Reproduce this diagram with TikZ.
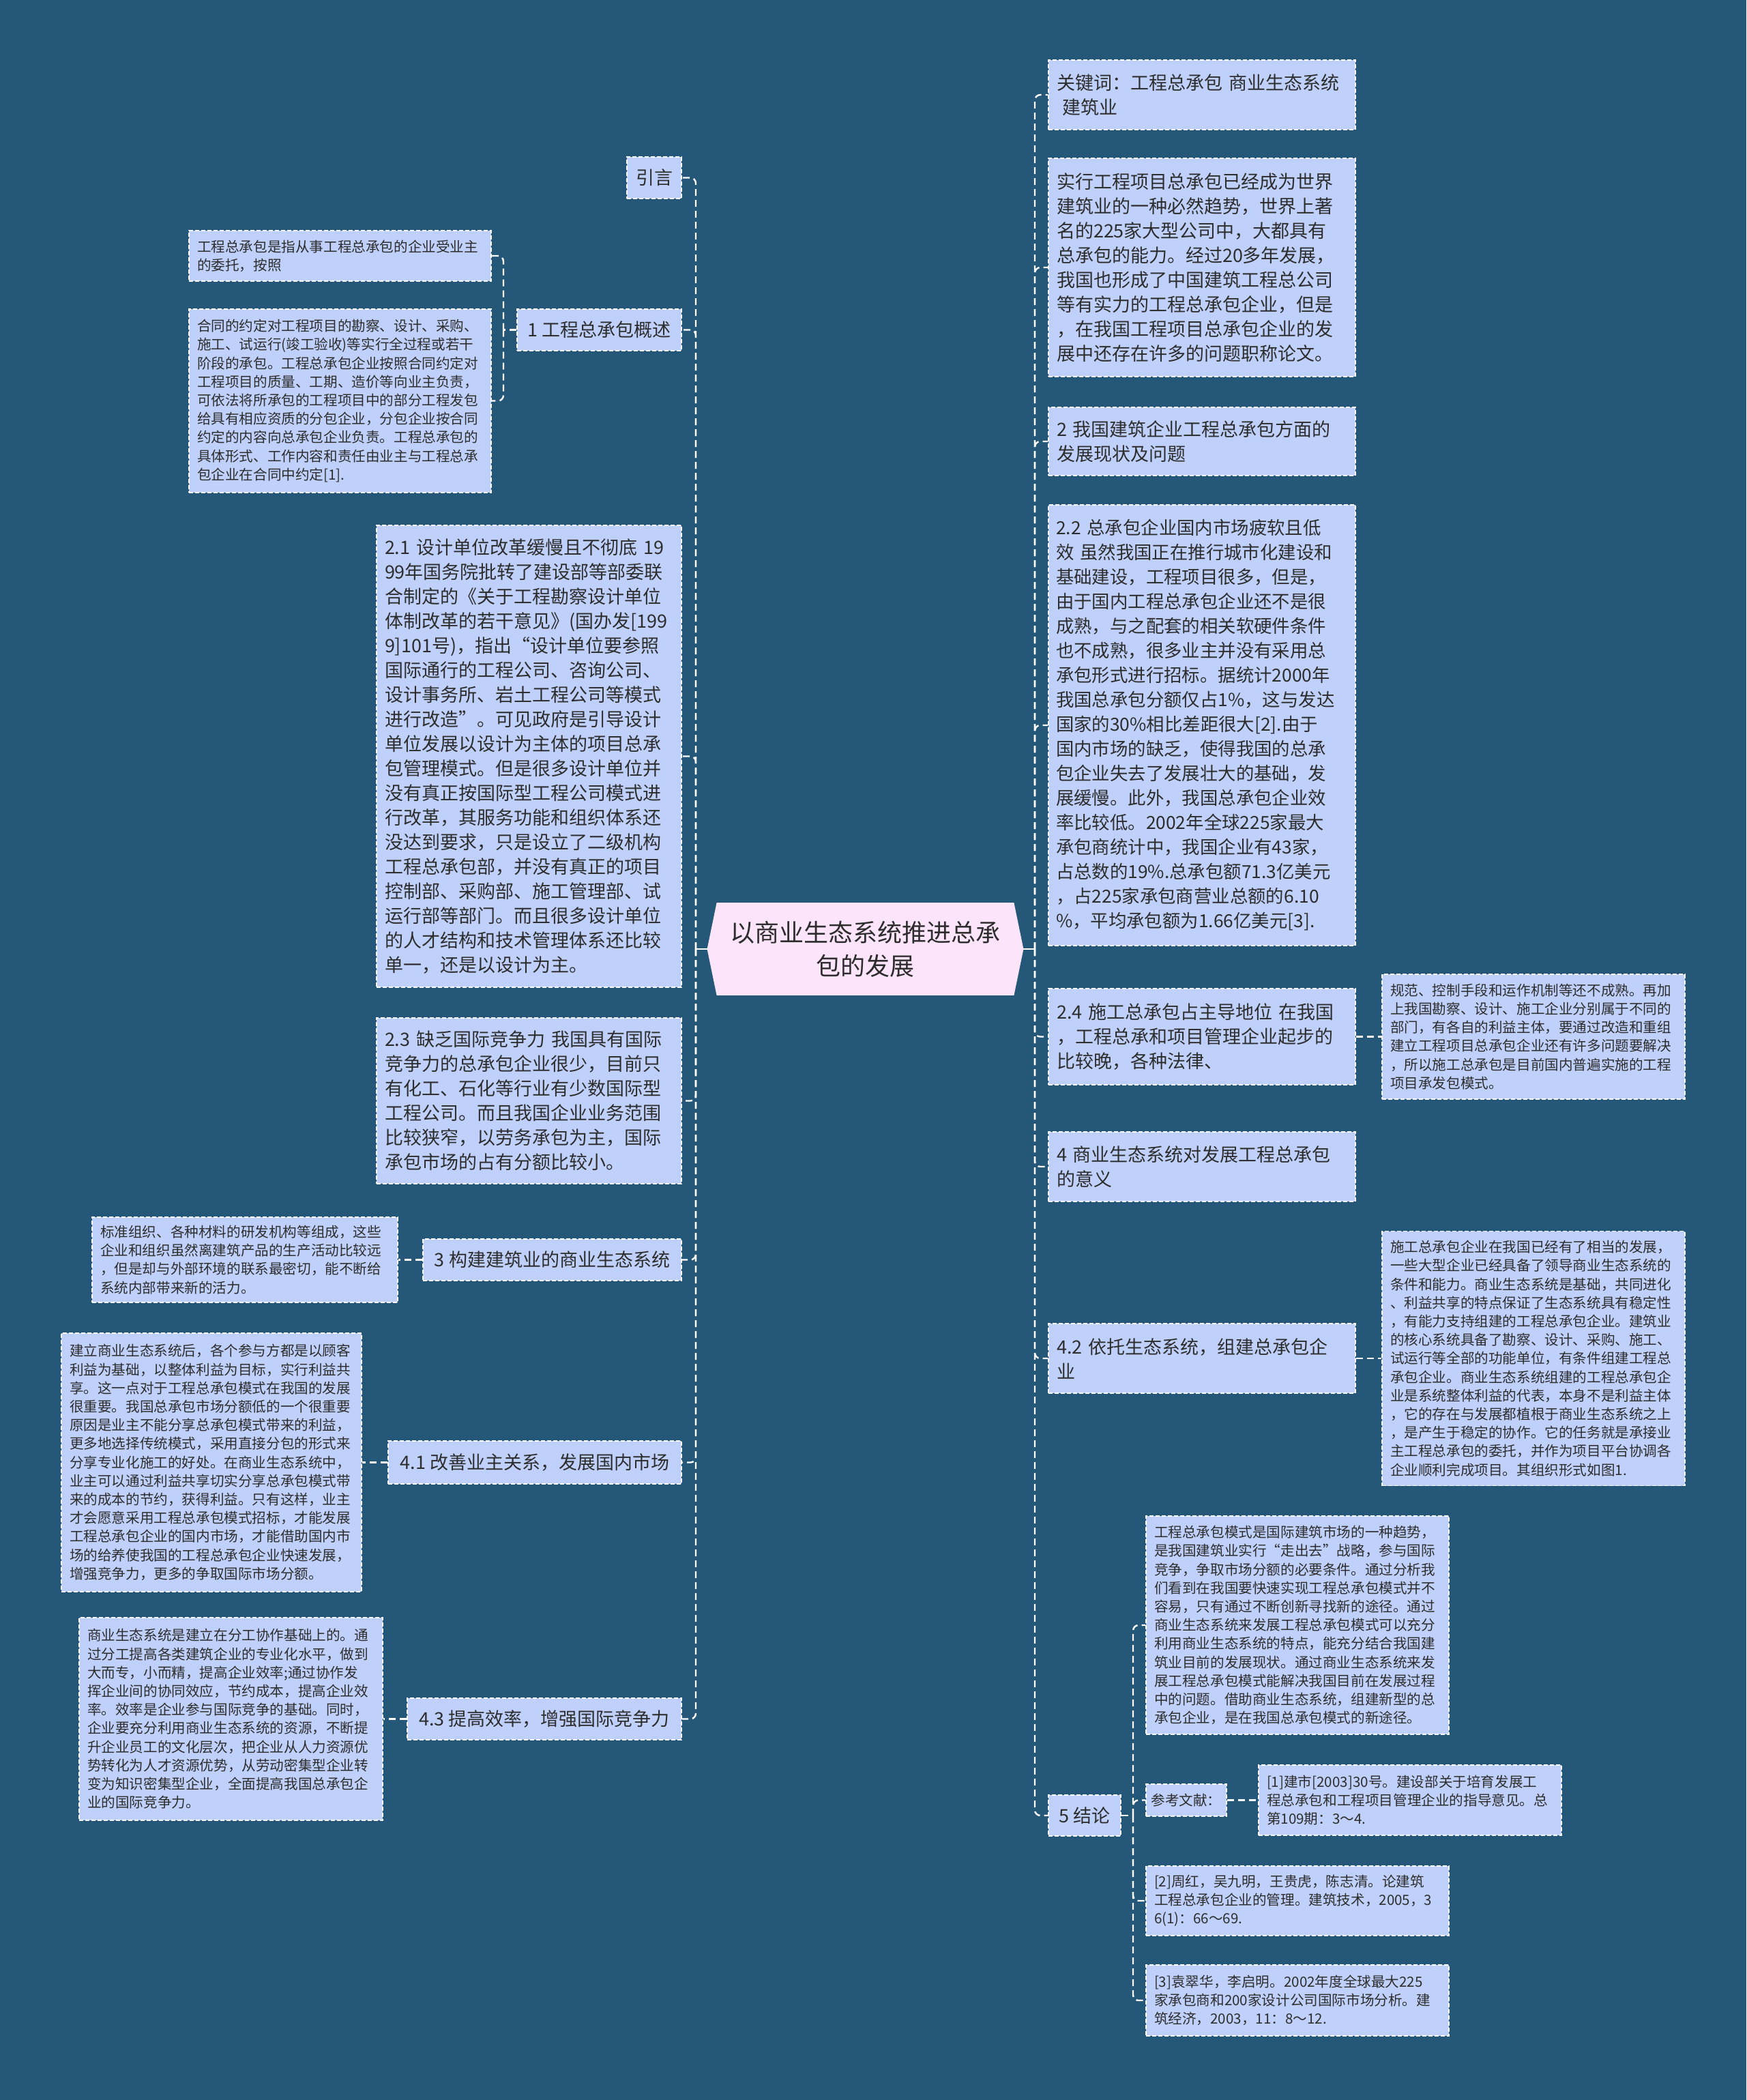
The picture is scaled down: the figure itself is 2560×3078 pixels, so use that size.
\documentclass[tikz,border=0pt]{standalone}
\usepackage{fontspec}
\setmainfont{Noto Sans CJK SC}
\usetikzlibrary{backgrounds}
\definecolor{bgc}{RGB}{36,87,120}
\definecolor{boxc}{RGB}{191,208,250}
\definecolor{cenc}{RGB}{252,229,250}
\definecolor{txt}{RGB}{45,45,45}
\tikzset{
 base/.style={draw=white, fill=boxc, line width=0.8pt, dash pattern=on 3pt off 1.5pt, text=txt, inner xsep=6pt, inner ysep=0pt, align=left, anchor=center},
 big/.style={base, font=\fontsize{13.5}{18}\selectfont},
 small/.style={base, font=\fontsize{10.3}{13.6}\selectfont},
 one/.style={align=center},
 conn/.style={draw=white, line width=1.2pt, dash pattern=on 5pt off 3pt, rounded corners=4pt},
 solidc/.style={draw=white, line width=1.2pt},
 ctext/.style={text=txt, align=center, font=\fontsize{18}{24.5}\selectfont, minimum width=231.5pt, minimum height=67.5pt, inner sep=0pt},
}
\begin{document}
\begin{tikzpicture}[x=0.5pt,y=-0.5pt]
\useasboundingbox (0,0) rectangle (2560,3078);
% center
\node[ctext] (c) at (1268.5,1391) {以商业生态系统推进总承\\包的发展};
\begin{scope}[on background layer]
\fill[bgc] (0,0) rectangle (2560,3078);
\fill[cenc] ([xshift=7pt]c.north west) -- ([xshift=-7pt]c.north east) -- (c.east) -- ([xshift=-7pt]c.south east) -- ([xshift=7pt]c.south west) -- (c.west) -- cycle;
\end{scope}

% left side
\node[big, one, minimum width=40pt, minimum height=30.5pt] (intro) at (959,260.5) {引言};
\node[small, text width=209.5pt, minimum height=37pt] (s1a) at (498.5,375) {工程总承包是指从事工程总承包的企业受业主\\的委托，按照};
\node[small, text width=209.5pt, minimum height=134.5pt] (s1b) at (498.5,587.5) {合同的约定对工程项目的勘察、设计、采购、\\
施工、试运行(竣工验收)等实行全过程或若干\\
阶段的承包。工程总承包企业按照合同约定对\\
工程项目的质量、工期、造价等向业主负责，\\
可依法将所承包的工程项目中的部分工程发包\\
给具有相应资质的分包企业，分包企业按合同\\
约定的内容向总承包企业负责。工程总承包的\\
具体形式、工作内容和责任由业主与工程总承\\
包企业在合同中约定[1].};
\node[big, one, minimum width=120.5pt, minimum height=30.5pt] (n1) at (878.5,483.5) {1~工程总承包概述};
\node[big, text width=211.5pt, minimum height=338.5pt] (n21) at (775.5,1108.5) {2.1~设计单位改革缓慢且不彻底~19\\
99年国务院批转了建设部等部委联\\
合制定的《关于工程勘察设计单位\\
体制改革的若干意见》(国办发[199\\
9]101号)，指出“设计单位要参照\\
国际通行的工程公司、咨询公司、\\
设计事务所、岩土工程公司等模式\\
进行改造”。可见政府是引导设计\\
单位发展以设计为主体的项目总承\\
包管理模式。但是很多设计单位并\\
没有真正按国际型工程公司模式进\\
行改革，其服务功能和组织体系还\\
没达到要求，只是设立了二级机构\\
工程总承包部，并没有真正的项目\\
控制部、采购部、施工管理部、试\\
运行部等部门。而且很多设计单位\\
的人才结构和技术管理体系还比较\\
单一，还是以设计为主。};
\node[big, text width=211.5pt, minimum height=121.5pt] (n23) at (775.5,1613.5) {2.3~缺乏国际竞争力~我国具有国际\\
竞争力的总承包企业很少，目前只\\
有化工、石化等行业有少数国际型\\
工程公司。而且我国企业业务范围\\
比较狭窄，以劳务承包为主，国际\\
承包市场的占有分额比较小。};
\node[small, text width=212pt, minimum height=62.5pt] (s3) at (359,1846.5) {标准组织、各种材料的研发机构等组成，这些\\
企业和组织虽然离建筑产品的生产活动比较远\\
，但是却与外部环境的联系最密切，能不断给\\
系统内部带来新的活力。};
\node[big, one, minimum width=189.5pt, minimum height=30.5pt] (n3) at (809.5,1846.5) {3~构建建筑业的商业生态系统};
\node[small, text width=208pt, minimum height=189.5pt] (s41) at (310,2143.5) {建立商业生态系统后，各个参与方都是以顾客\\
利益为基础，以整体利益为目标，实行利益共\\
享。这一点对于工程总承包模式在我国的发展\\
很重要。我国总承包市场分额低的一个很重要\\
原因是业主不能分享总承包模式带来的利益，\\
更多地选择传统模式，采用直接分包的形式来\\
分享专业化施工的好处。在商业生态系统中，\\
业主可以通过利益共享切实分享总承包模式带\\
来的成本的节约，获得利益。只有这样，业主\\
才会愿意采用工程总承包模式招标，才能发展\\
工程总承包企业的国内市场，才能借助国内市\\
场的给养使我国的工程总承包企业快速发展，\\
增强竞争力，更多的争取国际市场分额。};
\node[big, one, minimum width=215pt, minimum height=31.5pt] (n41) at (784,2143.5) {4.1~改善业主关系，发展国内市场};
\node[small, text width=210.5pt, minimum height=148.5pt] (s43) at (338.5,2519.5) {商业生态系统是建立在分工协作基础上的。通\\
过分工提高各类建筑企业的专业化水平，做到\\
大而专，小而精，提高企业效率;通过协作发\\
挥企业间的协同效应，节约成本，提高企业效\\
率。效率是企业参与国际竞争的基础。同时，\\
企业要充分利用商业生态系统的资源，不断提\\
升企业员工的文化层次，把企业从人力资源优\\
势转化为人才资源优势，从劳动密集型企业转\\
变为知识密集型企业，全面提高我国总承包企\\
业的国际竞争力。};
\node[big, one, minimum width=201pt, minimum height=30.5pt] (n43) at (798,2519.5) {4.3~提高效率，增强国际竞争力};

% right side
\node[big, text width=213pt, minimum height=51pt] (kw) at (1762,139) {关键词：工程总承包~商业生态系统\\\hspace*{0.3em}建筑业};
\node[big, text width=213pt, minimum height=160pt] (i2) at (1762,392) {实行工程项目总承包已经成为世界\\
建筑业的一种必然趋势，世界上著\\
名的225家大型公司中，大都具有\\
总承包的能力。经过20多年发展，\\
我国也形成了中国建筑工程总公司\\
等有实力的工程总承包企业，但是\\
，在我国工程项目总承包企业的发\\
展中还存在许多的问题职称论文。};
\node[big, text width=213pt, minimum height=50pt] (n2) at (1762,647) {2~我国建筑企业工程总承包方面的\\发展现状及问题};
\node[big, font=\fontsize{13.2}{18}\selectfont, inner xsep=5.5pt, text width=214pt, minimum height=323pt] (n22) at (1762,1063) {2.2~总承包企业国内市场疲软且低\\
效~虽然我国正在推行城市化建设和\\
基础建设，工程项目很多，但是，\\
由于国内工程总承包企业还不是很\\
成熟，与之配套的相关软硬件条件\\
也不成熟，很多业主并没有采用总\\
承包形式进行招标。据统计2000年\\
我国总承包分额仅占1\%，这与发达\\
国家的30\%相比差距很大[2].由于\\
国内市场的缺乏，使得我国的总承\\
包企业失去了发展壮大的基础，发\\
展缓慢。此外，我国总承包企业效\\
率比较低。2002年全球225家最大\\
承包商统计中，我国企业有43家，\\
占总数的19\%.总承包额71.3亿美元\\
，占225家承包商营业总额的6.10\\
\%，平均承包额为1.66亿美元[3].};
\node[big, text width=213pt, minimum height=70.5pt] (n24) at (1762,1519.5) {2.4~施工总承包占主导地位~在我国\\
，工程总承和项目管理企业起步的\\
比较晚，各种法律、};
\node[small, text width=210pt, minimum height=91.5pt] (s24) at (2248,1519.5) {规范、控制手段和运作机制等还不成熟。再加\\
上我国勘察、设计、施工企业分别属于不同的\\
部门，有各自的利益主体，要通过改造和重组\\
建立工程项目总承包企业还有许多问题要解决\\
，所以施工总承包是目前国内普遍实施的工程\\
项目承发包模式。};
\node[big, text width=213pt, minimum height=51pt] (n4) at (1762,1710) {4~商业生态系统对发展工程总承包\\的意义};
\node[big, text width=213pt, minimum height=51pt] (n42) at (1762,1991) {4.2~依托生态系统，组建总承包企\\业};
\node[small, text width=210pt, minimum height=186.5pt] (s42) at (2248,1991) {施工总承包企业在我国已经有了相当的发展，\\
一些大型企业已经具备了领导商业生态系统的\\
条件和能力。商业生态系统是基础，共同进化\\
、利益共享的特点保证了生态系统具有稳定性\\
，有能力支持组建的工程总承包企业。建筑业\\
的核心系统具备了勘察、设计、采购、施工、\\
试运行等全部的功能单位，有条件组建工程总\\
承包企业。商业生态系统组建的工程总承包企\\
业是系统整体利益的代表，本身不是利益主体\\
，它的存在与发展都植根于商业生态系统之上\\
，是产生于稳定的协作。它的任务就是承接业\\
主工程总承包的委托，并作为项目平台协调各\\
企业顺利完成项目。其组织形式如图1.};
\node[big, one, minimum width=53pt, minimum height=30pt] (n5) at (1590,2661) {5~结论};
\node[small, text width=210pt, minimum height=160pt] (s5a) at (1902,2382) {工程总承包模式是国际建筑市场的一种趋势，\\
是我国建筑业实行“走出去”战略，参与国际\\
竞争，争取市场分额的必要条件。通过分析我\\
们看到在我国要快速实现工程总承包模式并不\\
容易，只有通过不断创新寻找新的途径。通过\\
商业生态系统来发展工程总承包模式可以充分\\
利用商业生态系统的特点，能充分结合我国建\\
筑业目前的发展现状。通过商业生态系统来发\\
展工程总承包模式能解决我国目前在发展过程\\
中的问题。借助商业生态系统，组建新型的总\\
承包企业，是在我国总承包模式的新途径。};
\node[small, one, inner xsep=3pt, minimum width=59pt, minimum height=23.5pt] (ref) at (1739,2638.5) {参考文献：};
\node[small, text width=210pt, minimum height=51.5pt] (r1) at (2067,2638.5) {[1]建市[2003]30号。建设部关于培育发展工\\
程总承包和工程项目管理企业的指导意见。总\\
第109期：3～4.};
\node[small, text width=210pt, minimum height=51pt] (r2) at (1902,2786) {[2]周红，吴九明，王贵虎，陈志清。论建筑\\
工程总承包企业的管理。建筑技术，2005，3\\
6(1)：66～69.};
\node[small, text width=210pt, minimum height=52pt] (r3) at (1902,2932) {[3]袁翠华，李启明。2002年度全球最大225\\
家承包商和200家设计公司国际市场分析。建\\
筑经济，2003，11：8～12.};

% connectors
\coordinate (LS) at (1020,1391);
\coordinate (RS) at (1517,1391);
\draw[solidc] (c.west) -- (LS);
\draw[solidc] (c.east) -- (RS);
\foreach \n in {intro,n1,n21,n23,n3,n41,n43} \draw[conn] (LS) |- (\n.east);
\foreach \n in {kw,i2,n2,n22,n24,n4,n42,n5} \draw[conn] (RS) |- (\n.west);
\coordinate (S1) at (738,483.5);
\draw[conn] (n1.west) -- (S1);
\draw[conn] (S1) |- (s1a.east);
\draw[conn] (S1) |- (s1b.east);
\draw[conn] (n3.west) -- (s3.east);
\draw[conn] (n41.west) -- (s41.east);
\draw[conn] (n43.west) -- (s43.east);
\draw[conn] (n24.east) -- (s24.west);
\draw[conn] (n42.east) -- (s42.west);
\coordinate (S5) at (1661,2661);
\draw[conn] (n5.east) -- (S5);
\foreach \n in {s5a,ref,r2,r3} \draw[conn] (S5) |- (\n.west);
\draw[conn] (ref.east) -- (r1.west);
\end{tikzpicture}
\end{document}
